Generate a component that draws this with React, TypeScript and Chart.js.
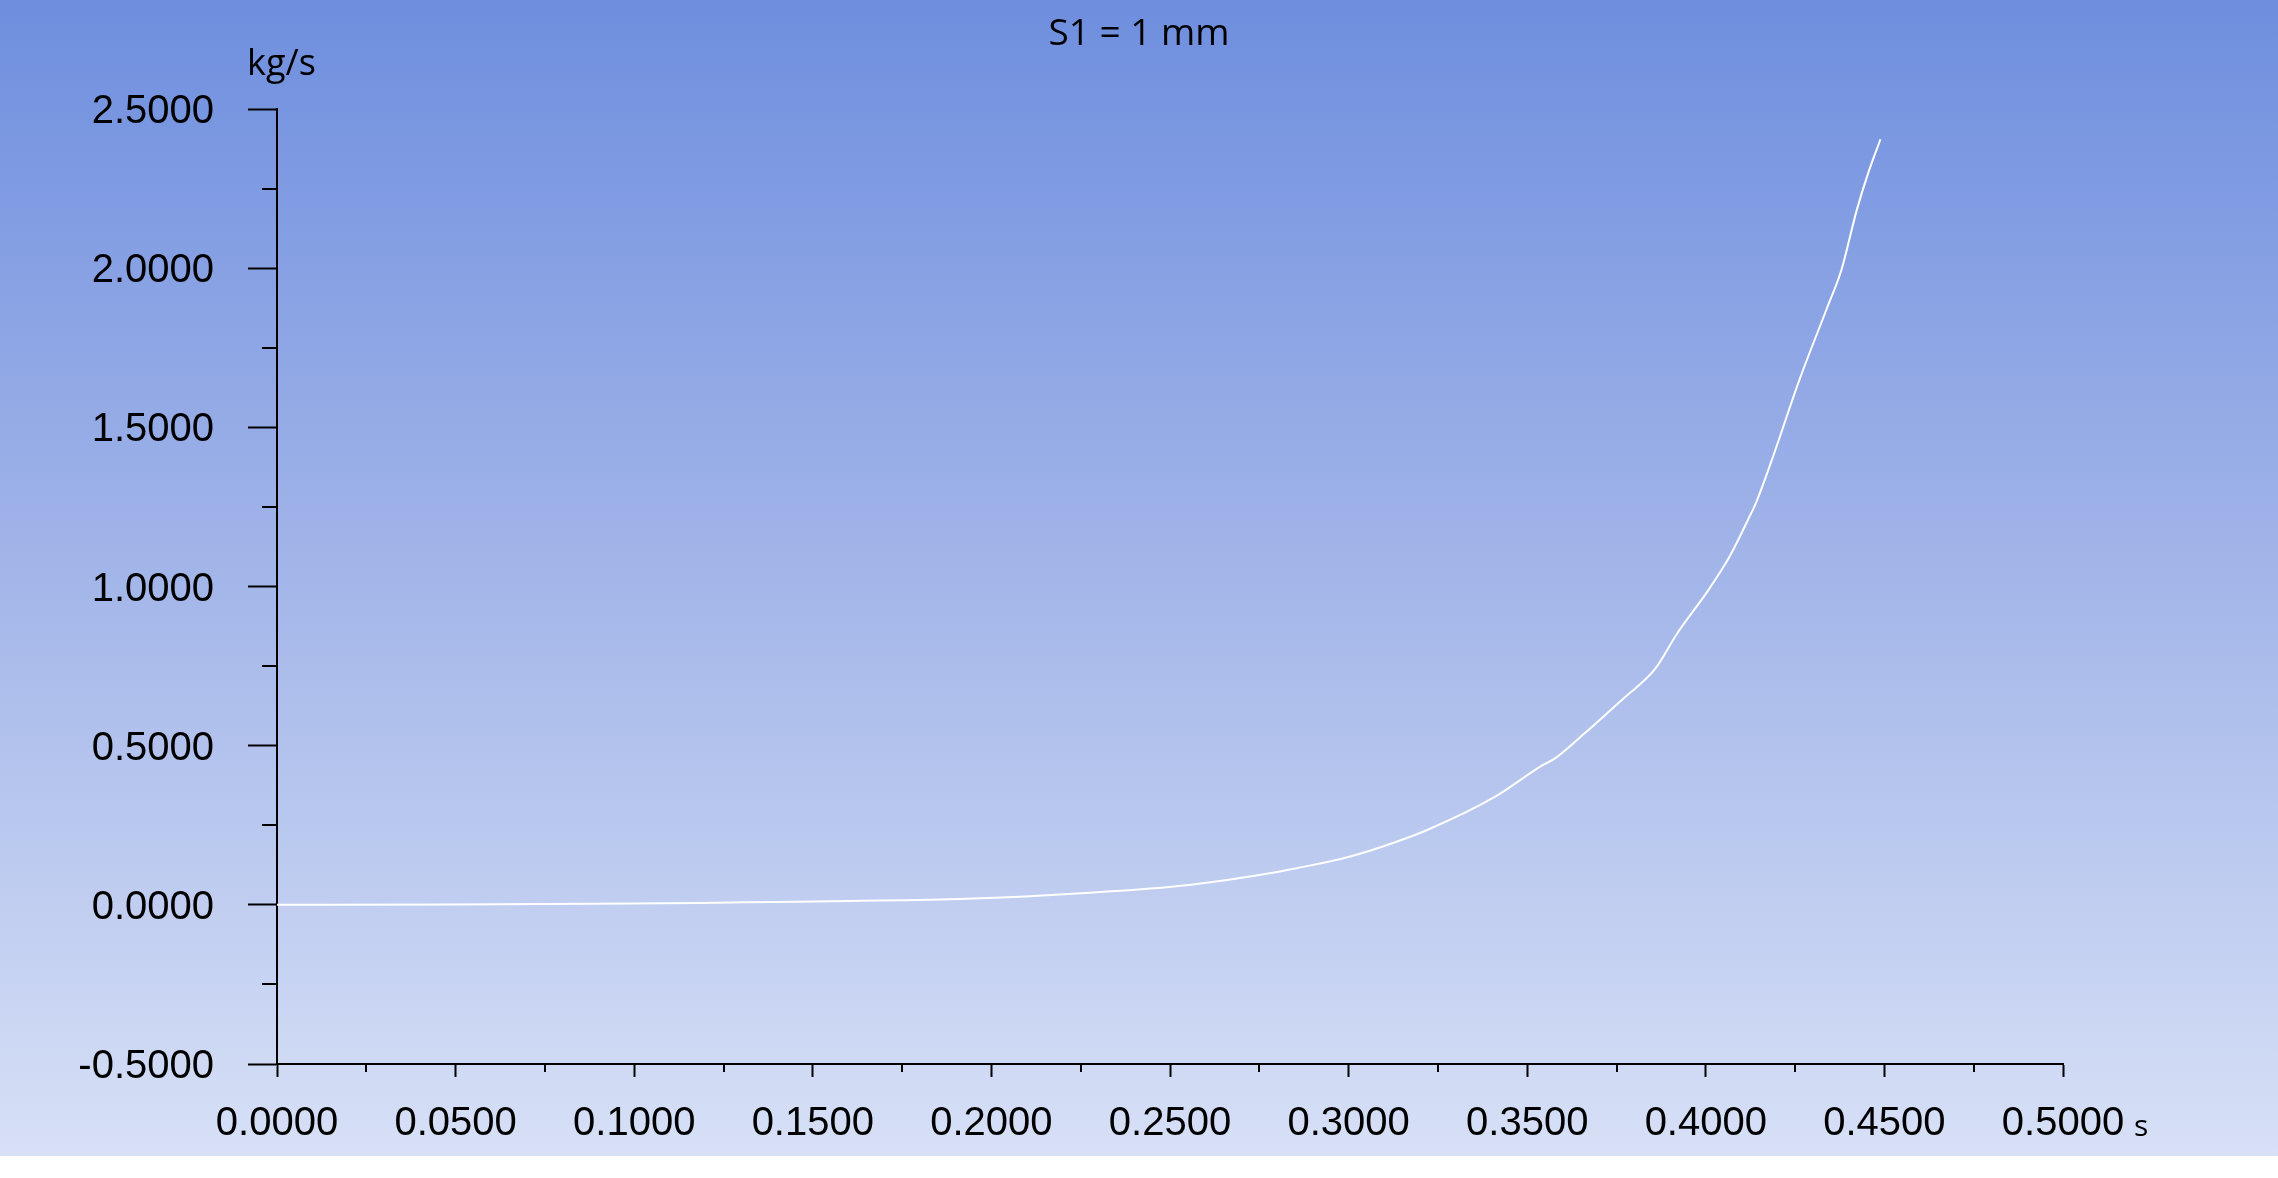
import React, { useEffect, useRef } from "react";
import { Chart, registerables, Plugin } from "chart.js";

Chart.register(...registerables);

// flow time (s) and mass flow rate (kg/s)
const timeS = [
  0, 0.05, 0.1, 0.118, 0.139, 0.16, 0.193, 0.2265, 0.2553, 0.28, 0.2858, 0.2978,
  0.31, 0.322, 0.3408, 0.3542, 0.3578, 0.366, 0.3788, 0.3802, 0.3858, 0.3919,
  0.4011, 0.4067, 0.412, 0.4142, 0.419, 0.4263, 0.4338, 0.438, 0.4422, 0.4455,
  0.4489,
];
const massFlow = [
  0, 0.001, 0.004, 0.006, 0.009, 0.012, 0.019, 0.0375, 0.0625, 0.103, 0.116,
  0.144, 0.185, 0.235, 0.338, 0.438, 0.46, 0.538, 0.666, 0.679, 0.741, 0.851,
  0.995, 1.095, 1.214, 1.267, 1.414, 1.652, 1.871, 1.996, 2.18, 2.3, 2.405,
];

const yMinorTicks = [-0.25, 0.25, 0.75, 1.25, 1.75, 2.25];
const xMinorTicks = [
  0.025, 0.075, 0.125, 0.175, 0.225, 0.275, 0.325, 0.375, 0.425, 0.475,
];

const titleText = "S1 = 1 mm";
const yUnit = "kg/s";
const xUnit = "s";

const W = 2278;
const H = 1156;

const backdrop: Plugin<"line"> = {
  id: "backdrop",
  beforeDraw(chart) {
    const { ctx } = chart;
    const g = ctx.createLinearGradient(0, 0, 0, H);
    g.addColorStop(0, "#6e8ede");
    g.addColorStop(0.5, "#a3b6e9");
    g.addColorStop(1, "#d7e0f6");
    ctx.save();
    ctx.fillStyle = g;
    ctx.fillRect(0, 0, W, H);
    ctx.restore();
  },
  afterDraw(chart) {
    const { ctx, scales } = chart;
    const x = scales.x;
    const y = scales.y;
    ctx.save();
    ctx.strokeStyle = "#000";
    ctx.lineWidth = 2;
    ctx.beginPath();
    yMinorTicks.forEach((v) => {
      const py = Math.round(y.getPixelForValue(v));
      ctx.moveTo(x.left - 15, py);
      ctx.lineTo(x.left, py);
    });
    xMinorTicks.forEach((v) => {
      const px = Math.round(x.getPixelForValue(v));
      ctx.moveTo(px, y.bottom);
      ctx.lineTo(px, y.bottom + 8);
    });
    ctx.stroke();

    ctx.fillStyle = "#000";
    ctx.textBaseline = "alphabetic";
    ctx.font = "37px 'Open Sans'";
    ctx.textAlign = "center";
    ctx.fillText(titleText, 1139, 45);
    ctx.textAlign = "left";
    ctx.font = "36px 'Open Sans'";
    ctx.fillText(yUnit, 247, 75);
    ctx.font = "30px 'Open Sans'";
    ctx.fillText(xUnit, 2134, 1136);
    ctx.restore();
  },
};

const MassFlowChart: React.FC = () => {
  const canvasRef = useRef<HTMLCanvasElement | null>(null);
  const chartRef = useRef<Chart | null>(null);

  useEffect(() => {
    if (!canvasRef.current) return;
    const ctx = canvasRef.current.getContext("2d");
    if (!ctx) return;

    chartRef.current = new Chart(ctx, {
      type: "line",
      data: {
        datasets: [
          {
            data: timeS.map((t, i) => ({ x: t, y: massFlow[i] })),
            borderColor: "#ffffff",
            borderWidth: 2,
            pointRadius: 0,
            cubicInterpolationMode: "monotone",
            fill: false,
          },
        ],
      },
      options: {
        animation: false,
        responsive: false,
        devicePixelRatio: 1,
        layout: { padding: { left: 0, top: 109, right: 215, bottom: 0 } },
        plugins: {
          legend: { display: false },
          tooltip: { enabled: false },
        },
        scales: {
          x: {
            type: "linear",
            min: 0,
            max: 0.5,
            afterFit: (s) => {
              s.height = 92;
            },
            border: { display: true, color: "#000", width: 2 },
            grid: {
              drawOnChartArea: false,
              drawTicks: true,
              tickLength: 13,
              tickColor: "#000",
              tickWidth: 2,
            },
            ticks: {
              stepSize: 0.05,
              maxRotation: 0,
              autoSkip: false,
              padding: 23,
              color: "#000",
              font: { family: "'Liberation Sans'", size: 40 },
              callback: (v) => Number(v).toFixed(4),
            },
          },
          y: {
            type: "linear",
            min: -0.5,
            max: 2.5,
            afterFit: (s) => {
              s.width = 277;
            },
            border: { display: true, color: "#000", width: 2 },
            grid: {
              drawOnChartArea: false,
              drawTicks: true,
              tickLength: 29,
              tickColor: "#000",
              tickWidth: 2,
            },
            ticks: {
              stepSize: 0.5,
              autoSkip: false,
              padding: 34,
              labelOffset: 3,
              color: "#000",
              font: { family: "'Liberation Sans'", size: 40 },
              callback: (v) => Number(v).toFixed(4),
            },
          },
        },
      },
      plugins: [backdrop],
    });

    return () => {
      chartRef.current?.destroy();
    };
  }, []);

  return <canvas ref={canvasRef} width={W} height={H}></canvas>;
};

export default function App() {
  return (
    <div style={{ position: "absolute", left: 0, top: 0, width: W, height: H }}>
      <MassFlowChart />
    </div>
  );
}
